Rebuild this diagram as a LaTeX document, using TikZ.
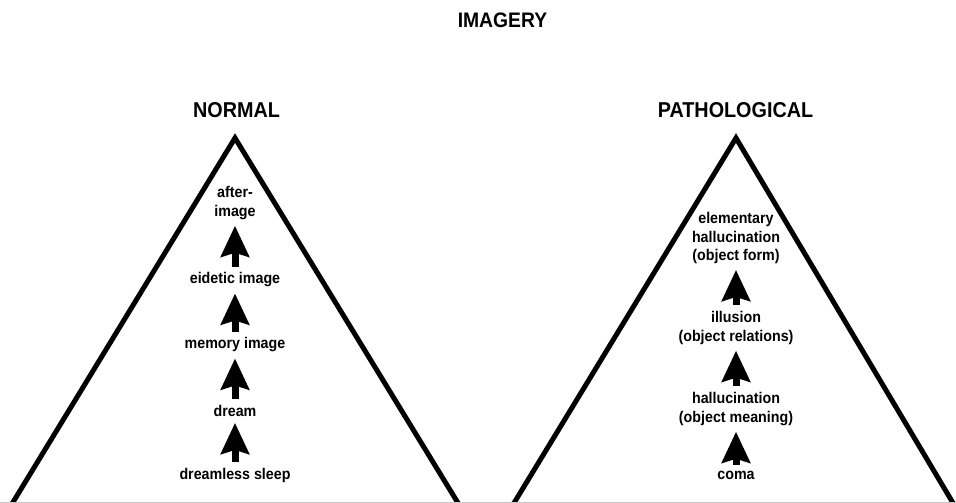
\documentclass[tikz,border=0pt]{standalone}
\usepackage{fontspec}
\newfontfamily\condfont[FakeStretch=0.92]{Liberation Sans}
\usetikzlibrary{arrows.meta,calc}
\begin{document}
\begin{tikzpicture}[x=1pt,y=-1pt,
  lbl/.style={font=\condfont\bfseries\fontsize{15.5}{18.5}\selectfont, align=center, inner sep=0pt},
  heading/.style={font=\condfont\bfseries\fontsize{21.5}{26}\selectfont, inner sep=0pt},
  maintitle/.style={font=\condfont\bfseries\fontsize{21}{25}\selectfont, inner sep=0pt},
  tri/.style={line width=5pt, line join=miter},
  fat/.style={line width=7pt, -{Stealth[length=31pt,width=28pt,inset=4pt]}, shorten <=6pt, shorten >=6pt}
]
\useasboundingbox (0,0) rectangle (956,503);
\fill[white] (0,0) rectangle (956,503);

% triangles
\coordinate (la) at (235,138);
\coordinate (lbl) at (12.5,503);
\coordinate (lbr) at (458,503);
\coordinate (ra) at (736,138);
\coordinate (rbl) at (514,503);
\coordinate (rbr) at (953,503);
\begin{scope}
\clip (0,0) rectangle (956,503);
\draw[tri] ($(la)!1.06!(lbl)$) -- (la) -- ($(la)!1.06!(lbr)$);
\draw[tri] ($(ra)!1.06!(rbl)$) -- (ra) -- ($(ra)!1.06!(rbr)$);
\end{scope}
\draw[black!22, line width=1pt] (0,502.5) -- (956,502.5);

% titles
\node[maintitle] (title) at (502.5,20.5) {IMAGERY};
\node[heading] (normal) at (236.5,110) {NORMAL};
\node[heading] (patho) at (735.5,110.5) {PATHOLOGICAL};

% left column
\node[lbl] (after) at (235,203) {after-\\image};
\node[lbl] (eidetic) at (235,280) {eidetic image};
\node[lbl] (memory) at (235,345) {memory image};
\node[lbl] (dream) at (235,411) {dream};
\node[lbl] (sleep) at (235,475) {dreamless sleep};

\draw[fat] (sleep.north) -- (dream.south);
\draw[fat] (dream.north) -- (memory.south);
\draw[fat] (memory.north) -- (eidetic.south);
\draw[fat] (eidetic.north) -- (after.south);

% right column
\node[lbl] (elem) at (736,238) {elementary\\hallucination\\(object form)};
\node[lbl] (illusion) at (736,328) {illusion\\(object relations)};
\node[lbl] (halluc) at (736,409) {hallucination\\(object meaning)};
\node[lbl] (coma) at (736,475) {coma};

\draw[fat] (coma.north) -- (halluc.south);
\draw[fat] (halluc.north) -- (illusion.south);
\draw[fat] (illusion.north) -- (elem.south);
\end{tikzpicture}
\end{document}
